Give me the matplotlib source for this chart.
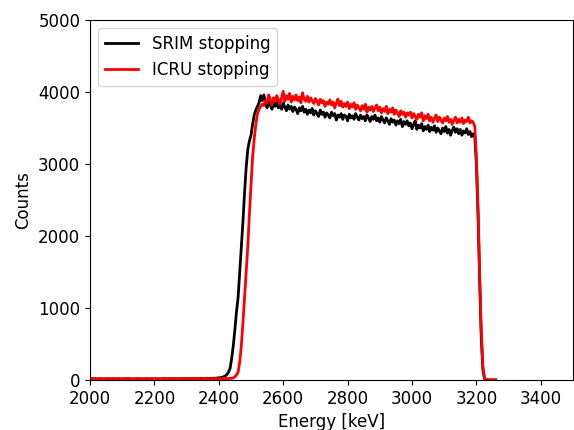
import numpy as np
import matplotlib
matplotlib.use("Agg")
import matplotlib.pyplot as plt

# bin centres, 5 keV wide
energy = np.arange(2000, 3265, 5)

srim_counts = [
    14, 18, 12, 20, 16, 11, 19, 15, 13, 17,
    15, 20, 12, 16, 18, 13, 17, 14, 19, 15,
    12, 16, 18, 14, 20, 13, 15, 17, 12, 19,
    16, 14, 18, 13, 17, 20, 15, 12, 18, 16,
    14, 19, 15, 17, 13, 18, 16, 21, 14, 17,
    18, 15, 20, 16, 13, 19, 17, 15, 22, 16,
    17, 21, 16, 19, 15, 22, 18, 20, 17, 23,
    19, 22, 18, 25, 20, 24, 21, 26, 23, 28,
    30, 33, 38, 45, 55, 75, 110, 160, 300, 480,
    700, 950, 1150, 1500, 1850, 2200, 2600, 2950, 3200, 3320,
    3400, 3550, 3680, 3750, 3800, 3850, 3950, 3880, 3960,
    3850, 3780, 3900, 3820, 3760, 3850, 3800, 3880, 3780, 3820,
    3760, 3850, 3790, 3740, 3820, 3760, 3800, 3730, 3790, 3760,
    3700, 3780, 3740, 3800, 3720, 3760, 3690, 3750, 3710, 3770,
    3680, 3740, 3700, 3660, 3750, 3690, 3720, 3650, 3710, 3680,
    3640, 3720, 3670, 3700, 3610, 3680, 3650, 3700, 3620, 3680,
    3660, 3600, 3690, 3640, 3670, 3620, 3700, 3650, 3610, 3680,
    3630, 3660, 3600, 3680, 3640, 3590, 3660, 3620, 3680, 3600,
    3640, 3580, 3660, 3610, 3570, 3640, 3600, 3550, 3630, 3580,
    3610, 3540, 3600, 3560, 3620, 3520, 3590, 3550, 3600, 3530,
    3570, 3490, 3550, 3600, 3480, 3540, 3500, 3560, 3460, 3520,
    3480, 3540, 3450, 3510, 3470, 3530, 3440, 3500, 3460, 3420,
    3500, 3450, 3520, 3430, 3480, 3400, 3470, 3510, 3440, 3490,
    3420, 3480, 3400, 3460, 3430, 3490, 3410, 3450, 3380, 3420,
    3380, 3000, 2300, 1400, 600, 150, 20, 5, 0, 0, 0, 0, 0, 0,
]

icru_counts = [
    16, 12, 19, 14, 17, 13, 20, 15, 18, 12,
    17, 14, 19, 13, 16, 20, 12, 18, 15, 17,
    13, 19, 15, 17, 12, 18, 16, 14, 20, 15,
    18, 13, 16, 19, 14, 17, 12, 20, 15, 18,
    15, 17, 13, 19, 16, 14, 20, 17, 15, 18,
    16, 19, 14, 17, 21, 15, 18, 16, 19, 14,
    18, 15, 20, 17, 19, 16, 21, 18, 15, 20,
    17, 20, 16, 19, 22, 18, 21, 17, 20, 19,
    18, 20, 17, 22, 19, 21, 20, 24, 22, 30,
    45, 70, 110, 250, 480, 800, 1150, 1500, 1850, 2300,
    2700, 3100, 3350, 3550, 3700, 3760, 3800, 3830, 3810,
    3880, 3850, 3960, 3900, 3820, 3920, 3870, 3950, 3890, 3830,
    3920, 4010, 3870, 3950, 3900, 3980, 3860, 3940, 3890, 3960,
    3880, 3930, 3850, 3990, 3900, 3870, 3940, 3860, 3920, 3880,
    3840, 3910, 3870, 3820, 3900, 3850, 3880, 3800, 3860, 3830,
    3890, 3820, 3860, 3780, 3850, 3900, 3810, 3870, 3790, 3840,
    3800, 3860, 3770, 3830, 3790, 3850, 3760, 3820, 3780, 3740,
    3810, 3760, 3830, 3720, 3790, 3750, 3800, 3730, 3780, 3820,
    3740, 3790, 3710, 3770, 3730, 3800, 3700, 3760, 3720, 3780,
    3690, 3750, 3710, 3660, 3740, 3690, 3720, 3650, 3710, 3680,
    3720, 3640, 3700, 3660, 3620, 3690, 3650, 3710, 3600, 3670,
    3630, 3690, 3600, 3650, 3580, 3640, 3680, 3590, 3650, 3610,
    3570, 3640, 3600, 3660, 3580, 3620, 3550, 3610, 3650, 3570,
    3620, 3580, 3640, 3560, 3610, 3590, 3650, 3570, 3600, 3580,
    3520, 3100, 2400, 1500, 700, 200, 30, 5, 3, 3, 3, 3, 3, 3,
]

plt.rcParams['font.size'] = 12

fig = plt.figure(figsize=(5.74, 4.30), dpi=100)
ax = fig.add_axes([90 / 574, 1 - 380 / 430, 483 / 574, 360 / 430])

ax.plot(energy, srim_counts, color='black', lw=2, label='SRIM stopping')
ax.plot(energy, icru_counts, color='red', lw=2, label='ICRU stopping')

ax.set_xlim(2000, 3500)
ax.set_ylim(0, 5000)
ax.set_xlabel('Energy [keV]')
ax.set_ylabel('Counts')
ax.legend(loc='upper left')

fig.savefig('out.png', dpi=100)
